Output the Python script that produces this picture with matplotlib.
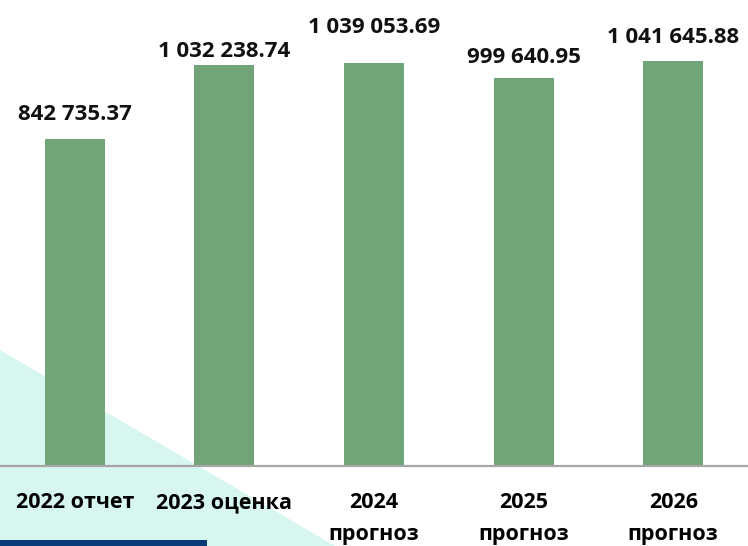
import matplotlib
matplotlib.use("Agg")
import matplotlib.pyplot as plt
from matplotlib.patches import Polygon, Rectangle

categories = ["2022 отчет", "2023 оценка", "2024\nпрогноз", "2025\nпрогноз", "2026\nпрогноз"]
values = [842735.37, 1032238.74, 1039053.69, 999640.95, 1041645.88]
labels = ["842 735.37", "1 032 238.74", "1 039 053.69", "999 640.95", "1 041 645.88"]
# label offsets above bar tops (points), as placed in the original
label_offsets = [13.7, 5.8, 21.6, 10.8, 13]

plt.rcParams['font.family'] = ['Open Sans', 'DejaVu Sans']

W, H = 748, 546
fig = plt.figure(figsize=(W / 100, H / 100), dpi=100)
fig.patch.set_facecolor("white")

# decorative background
bg = fig.add_axes([0, 0, 1, 1], zorder=-1)
bg.set_xlim(0, W)
bg.set_ylim(H, 0)
bg.axis("off")
bg.add_patch(Polygon([(0, 350), (335, H), (0, H)], closed=True,
                     facecolor="#d8f6f0", edgecolor="none"))
bg.add_patch(Rectangle((0, 540), 207, 6, facecolor="#0b3a78", edgecolor="none"))

ax = fig.add_axes([0, 80 / H, 1, 1 - 80 / H], zorder=1)
ax.patch.set_alpha(0)
x = list(range(len(values)))
ax.bar(x, values, width=0.4, color="#72a47a", zorder=2)
ax.set_xlim(-0.5, 4.5)
ax.set_ylim(0, 1.2e6)
for s in ["top", "right", "left"]:
    ax.spines[s].set_visible(False)
ax.spines["bottom"].set_color("#a6a6a6")
ax.spines["bottom"].set_linewidth(1.6)
ax.set_yticks([])
ax.set_xticks(x)
ax.set_xticklabels(categories, fontsize=15.5, fontweight="bold", va="top", linespacing=1.66)
ax.tick_params(axis="x", length=0, pad=19)
for xi, v, lab, off in zip(x, values, labels, label_offsets):
    ax.annotate(lab, (xi, v), xytext=(0, off), textcoords="offset points",
                ha="center", va="baseline", fontsize=16, fontweight="bold", color="#111111")

fig.savefig("out.png", dpi=100)
